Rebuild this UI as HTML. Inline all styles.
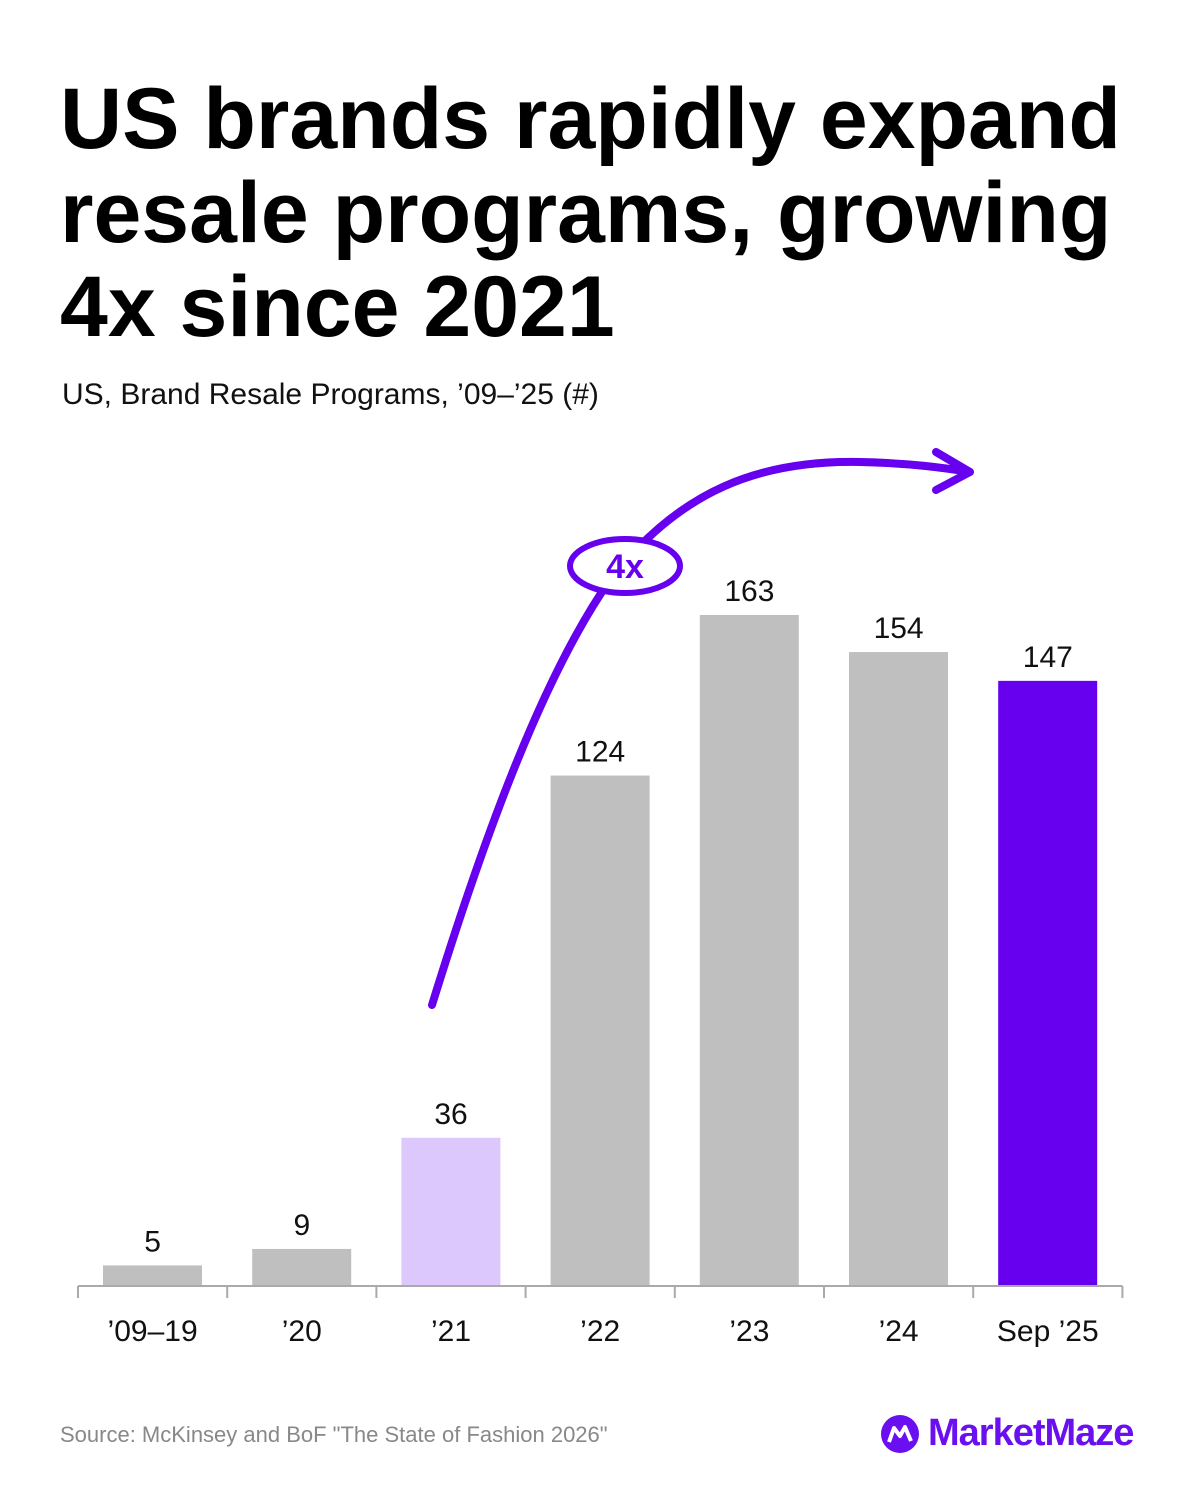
<!DOCTYPE html>
<html><head><meta charset="utf-8"><style>
body{margin:0;width:1200px;height:1500px;background:#fff;font-family:"Liberation Sans",sans-serif;overflow:hidden;position:relative}
h1{position:absolute;left:60px;top:72px;margin:0;font-size:86px;line-height:94px;font-weight:700;color:#000;letter-spacing:0px}
.sub{position:absolute;left:62px;top:378px;font-size:30px;color:#111}
.src{position:absolute;left:60px;top:1422px;font-size:22px;color:#888}
.logo{position:absolute;left:880px;top:1412px;display:flex;align-items:center;gap:8px;color:#6a0ff0;font-size:38px;font-weight:700;letter-spacing:-1px}
</style></head><body>
<h1>US brands rapidly expand<br>resale programs, growing<br>4x since 2021</h1>
<div class="sub">US, Brand Resale Programs, ’09–’25 (#)</div>
<svg id="chart" width="1200" height="1500" style="position:absolute;left:0;top:0"></svg>
<div class="src">Source: McKinsey and BoF "The State of Fashion 2026"</div>
<div class="logo"><svg width="40" height="40" viewBox="0 0 40 40"><circle cx="20" cy="20" r="19" fill="#6a0ff0"/><path d="M9 28 L14 14 L20 22 L25 13 L31 27" stroke="#fff" stroke-width="4" fill="none" stroke-linejoin="round"/></svg>MarketMaze</div>
<script>
const categories=["’09–19","’20","’21","’22","’23","’24","Sep ’25"];
const values=[5,9,36,124,163,154,147];
const colors=["#bfbfbf","#bfbfbf","#dcc8fc","#bfbfbf","#bfbfbf","#bfbfbf","#6600ee"];
const NS="http://www.w3.org/2000/svg";
const svg=document.getElementById('chart');
const x0=78,step=149.2,base=1286,k=671/163,bw=99;
const xs=i=>x0+i*step;const ys=v=>base-v*k;
function mk(t,a){const e=document.createElementNS(NS,t);for(const n in a)e.setAttribute(n,a[n]);svg.appendChild(e);return e;}
values.forEach((v,i)=>{
 const r=mk('rect',{x:xs(i)+25,y:ys(v),width:bw,height:v*k,fill:colors[i]});
 
 
 const t=mk('text',{x:xs(i)+step/2,y:ys(v)-14,'text-anchor':'middle','font-size':30,fill:'#111','font-family':'Liberation Sans'});t.textContent=v;
 
 
 const c=mk('text',{x:xs(i)+step/2,y:1341,'text-anchor':'middle','font-size':30,fill:'#111','font-family':'Liberation Sans'});c.textContent=categories[i];
 
 
});
const ax=mk('line',{x1:x0,x2:xs(7),y1:base,y2:base,stroke:'#aaa','stroke-width':2});


for(let i=0;i<=7;i++)mk('line',{x1:xs(i),x2:xs(i),y1:base,y2:base+12,stroke:'#aaa','stroke-width':2});
const arr=mk('path',{d:'M432 1005 C480 850 540 680 610 580 C680 490 760 460 860 462 C910 463 945 468 970 472 M936 452 L970 472 L936 490',fill:'none',stroke:'#6600ee','stroke-width':8,'stroke-linecap':'round','stroke-linejoin':'round'});


const el=mk('ellipse',{cx:625,cy:566,rx:55,ry:27,fill:'#fff',stroke:'#6600ee','stroke-width':6});


const bt=mk('text',{x:625,y:578,'text-anchor':'middle','font-size':34,'font-weight':700,fill:'#6600ee','font-family':'Liberation Sans'});bt.textContent='4x';


</script>
</body></html>
